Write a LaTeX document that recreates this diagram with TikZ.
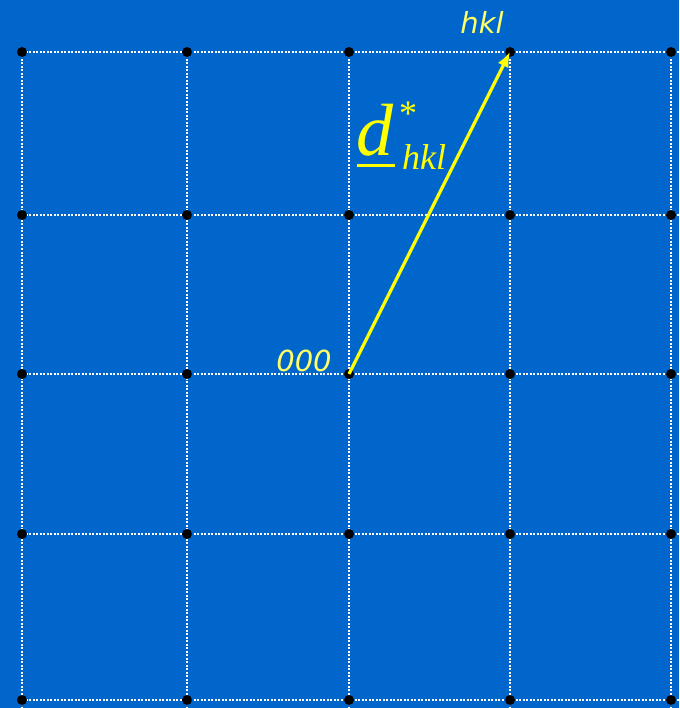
\documentclass[tikz,border=0pt]{standalone}
\usepackage{fontspec}
\usetikzlibrary{arrows.meta}
\newfontfamily\labfont{DejaVu Sans}
\newfontfamily\serfont{Liberation Serif}
\definecolor{bgblue}{HTML}{0066CC}
\definecolor{arrowyellow}{HTML}{FFFF00}
\definecolor{labyellow}{HTML}{FFFF66}
\begin{document}
\begin{tikzpicture}[x=1pt,y=-1pt,
  gridline/.style={white,line width=1.6pt,dash pattern=on 2pt off 1.5pt},
  latt/.style={circle,fill=black,inner sep=0pt,minimum size=10pt},
  vec/.style={arrowyellow,line width=3.2pt,-{Latex[length=15pt,width=12pt]}},
  lab/.style={labyellow,inner sep=0pt,font=\labfont\itshape\fontsize{29}{29}\selectfont}
]
\useasboundingbox (0,0) rectangle (679,708);
\fill[bgblue] (0,0) rectangle (679,708);
% grid lines
\foreach \y in {52,215,374,534,700} \draw[gridline] (22,\y) -- (679,\y);
\foreach \x in {22,187,349,510,671} \draw[gridline] (\x,52) -- (\x,708);
% lattice points
\foreach \x [count=\i] in {22,187,349,510,671}
  \foreach \y [count=\j] in {52,215,374,534,700}
    \node[latt] (p\i\j) at (\x,\y) {};
% vector
\draw[vec] (p33.center) -- (p41.center);
% labels
\node[lab,anchor=base] (hkl) at (482,34) {hkl};
\node[lab,anchor=base] (o) at (304,371) {000};
\node[arrowyellow,inner sep=0pt,anchor=base,font=\serfont\itshape\fontsize{74}{74}\selectfont] (d) at (375,156) {d};
\draw[arrowyellow,line width=3pt] (357,166) -- (395,166);
\node[arrowyellow,inner sep=0pt,anchor=base,font=\serfont\fontsize{36}{36}\selectfont] (st) at (408,126) {*};
\node[arrowyellow,inner sep=0pt,anchor=base,font=\serfont\itshape\fontsize{36}{36}\selectfont] (sub) at (424,170) {hkl};
\end{tikzpicture}
\end{document}
